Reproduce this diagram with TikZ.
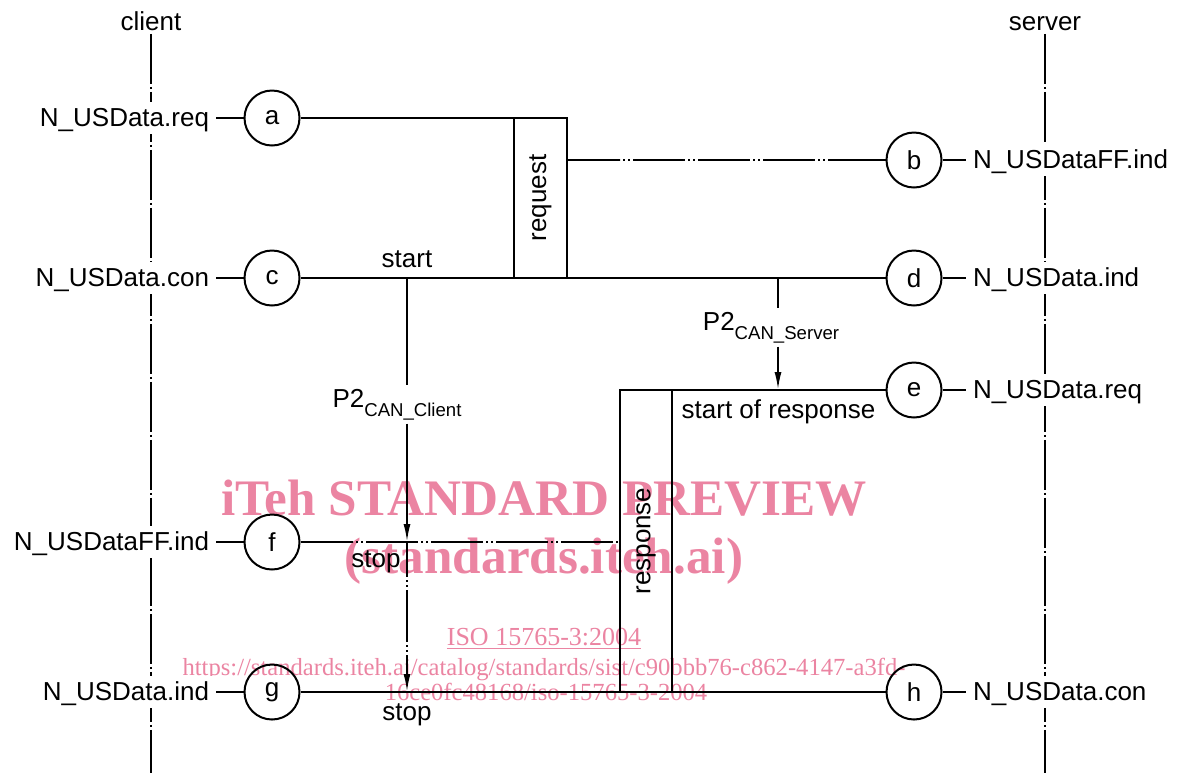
\documentclass[tikz,border=0pt]{standalone}
\usepackage{fontspec}
\setmainfont{Liberation Sans}
\newfontfamily\wmserif{Liberation Serif}
\usetikzlibrary{arrows.meta}
\definecolor{wmpink}{RGB}{235,132,162}
\newcommand{\lowsub}[1]{\raisebox{-4.5pt}{\fontsize{9.3}{10}\selectfont #1}}

\begin{document}
\begin{tikzpicture}[x=0.5pt,y=0.5pt,yscale=-1,xscale=1,
    line width=1pt,
    every node/.style={font=\fontsize{13}{15}\selectfont},
    evt/.style={draw,circle,minimum size=27.5pt,inner sep=0pt},
    prim/.style={fill=white,inner sep=3pt,text height=9.4pt,text depth=1pt},
    lifeline/.style={dash pattern=on 25pt off 1.5pt on 1pt off 1.5pt},
    ddot/.style={dash pattern=on 1pt off 1.5pt on 1pt off 1.5pt on 26pt off 1.5pt,dash phase=#1},
    ddot/.default=31pt,
    tip/.style={-{Latex[length=9pt,width=3.5pt]}},
    wm/.style={text=wmpink,inner sep=0pt,anchor=base}
  ]
  \useasboundingbox (0,0) rectangle (1181,773);

  % watermark
  \node[wm,font=\wmserif\bfseries\fontsize{25.6}{30}\selectfont] (wmtitle) at (544,515) {iTeh STANDARD PREVIEW};
  \node[wm,font=\wmserif\bfseries\fontsize{25.6}{30}\selectfont] (wmsite) at (544,573) {(standards.iteh.ai)};
  \node[wm,font=\wmserif\fontsize{13}{15}\selectfont] (wmiso) at (544,645) {\underline{ISO 15765-3:2004}};
  \node[wm,font=\wmserif\fontsize{12.3}{14}\selectfont] (wmurla) at (544,675) {https://standards.iteh.ai/catalog/standards/sist/c90bbb76-c862-4147-a3fd-};
  \node[wm,font=\wmserif\fontsize{12.3}{14}\selectfont] (wmurlb) at (546,700) {16ce0fc48168/iso-15765-3-2004};

  % lifelines
  \node[anchor=base] (client) at (151,30) {client};
  \node[anchor=base] (server) at (1045,30) {server};
  \coordinate (clientend) at (151,773);
  \coordinate (serverend) at (1045,773);
  \draw[lifeline] ([yshift=-2pt]client.south) -- (clientend);
  \draw[lifeline] ([yshift=-2pt]server.south) -- (serverend);

  % client side
  \node[prim,anchor=east] (lreq) at (216,118) {N\_USData.req};
  \node[prim,anchor=east] (lcon) at (216,278) {N\_USData.con};
  \node[prim,anchor=east] (lffind) at (216,542) {N\_USDataFF.ind};
  \node[prim,anchor=east] (lind) at (216,692) {N\_USData.ind};
  \node[evt] (a) at (272,118) {a};
  \node[evt] (c) at (272,278) {c};
  \node[evt] (f) at (272,542) {f};
  \node[evt] (g) at (272,692) {g};
  \draw (lreq) -- (a);
  \draw (lcon) -- (c);
  \draw (lffind) -- (f);
  \draw (lind) -- (g);

  % server side
  \node[prim,anchor=west] (rffind) at (966,160) {N\_USDataFF.ind};
  \node[prim,anchor=west] (rind) at (966,278) {N\_USData.ind};
  \node[prim,anchor=west] (rreq) at (966,390) {N\_USData.req};
  \node[prim,anchor=west] (rcon) at (966,692) {N\_USData.con};
  \node[evt] (b) at (914,160) {b};
  \node[evt] (d) at (914,278) {d};
  \node[evt] (e) at (914,390) {e};
  \node[evt] (h) at (914,692) {h};
  \draw (b) -- (rffind);
  \draw (d) -- (rind);
  \draw (e) -- (rreq);
  \draw (h) -- (rcon);

  % request
  \node[draw,minimum width=26.5pt,minimum height=80pt,inner sep=0pt] (reqbox) at (540.5,198) {};
  \node[rotate=90] (reqtxt) at (reqbox.center) {request};
  \draw (a) -- (a -| reqbox.west);
  \coordinate (b1) at (620,160);
  \coordinate (b2) at (832,160);
  \draw (reqbox.east |- b) -- (b1);
  \draw[ddot] (b1) -- (b2);
  \draw (b2) -- (b);
  \draw (c) -- (d);
  \node[anchor=base] (start) at (407,267) {start};

  % P2 client
  \node[anchor=base,inner sep=1.5pt] (p2c) at (397,407) {P2\lowsub{CAN\_Client}};
  \coordinate (cstart) at (407,278);
  \coordinate (fstop) at (407,542);
  \coordinate (gstop) at (407,692);
  \draw (cstart) -- (p2c.north -| cstart);
  \draw[tip] (p2c.south -| cstart) -- (fstop);
  \draw[tip,ddot=13.5pt] (fstop) -- (gstop);

  % P2 server
  \node[anchor=base,inner sep=1.5pt] (p2s) at (771,330) {P2\lowsub{CAN\_Server}};
  \coordinate (dtap) at (778,278);
  \coordinate (etap) at (778,390);
  \draw (dtap) -- (p2s.north -| dtap);
  \draw[tip] (p2s.south -| dtap) -- (etap);

  % response
  \node[draw,minimum width=26pt,minimum height=151pt,inner sep=0pt] (respbox) at (646,541) {};
  \node[rotate=90] (resptxt) at (respbox.center) {response};
  \draw (e) -- (e -| respbox.west);
  \node[anchor=base] (sor) at (778.5,418) {start of response};
  \coordinate (f1) at (353,542);
  \draw (f) -- (f1);
  \draw[ddot] (f1) -- (f1 -| respbox.west);
  \draw (g) -- (h);
  \node[anchor=base] (stopf) at (376,567) {stop};
  \node[anchor=base] (stopg) at (407,720) {stop};
\end{tikzpicture}
\end{document}
